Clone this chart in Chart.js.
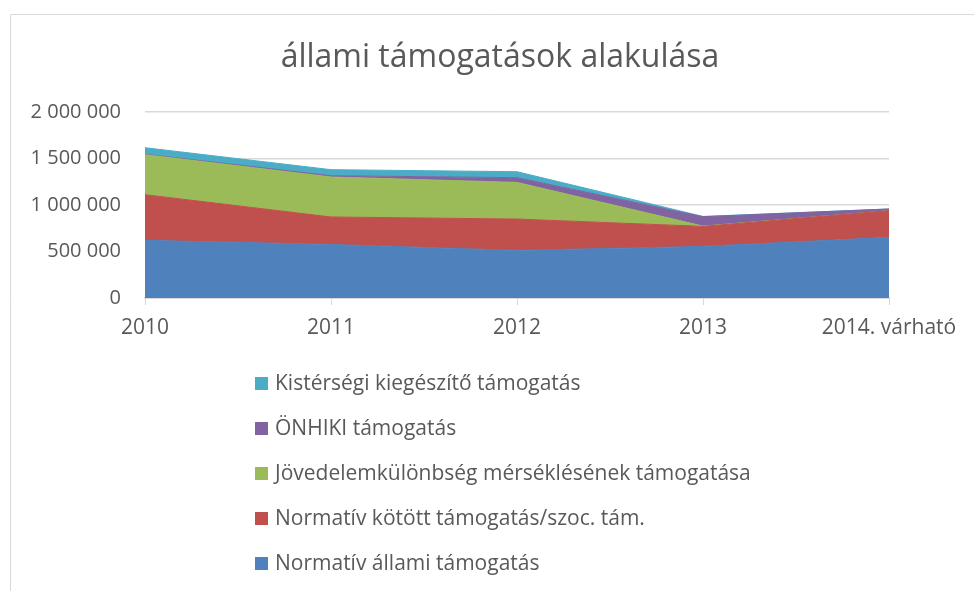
<!DOCTYPE html>
<html>
<head>
<meta charset="utf-8">
<script src="https://cdn.jsdelivr.net/npm/chart.js@4/dist/chart.umd.min.js"></script>
<style>
  html, body { margin: 0; padding: 0; background: #fff; }
  #wrap { width: 974px; height: 591px; position: relative; }
</style>
</head>
<body>
<div id="wrap"><canvas id="myChart" width="974" height="591"></canvas></div>
<script>
const years = ["2010", "2011", "2012", "2013", "2014. várható"];
const normativAllami = [620000, 576000, 512000, 555000, 652000];
const normativKotott = [491000, 295000, 337000, 215000, 287000];
const jovedelem = [430000, 430000, 394000, 3000, 0];
const onhiki = [5000, 14000, 51000, 101000, 18000];
const kistersegi = [70000, 65000, 64000, 3000, 0];
const yTicks = [0, 500000, 1000000, 1500000, 2000000];

const grayText = "#595959";
const font = "'Open Sans', sans-serif";

function area(label, data, color, fill) {
  return {
    label: label,
    data: data,
    backgroundColor: color,
    borderColor: color,
    borderWidth: 1,
    pointRadius: 0,
    fill: fill,
    tension: 0,
  };
}

const datasets = [
  area("Normatív állami támogatás", normativAllami, "#4f81bd", "origin"),
  area("Normatív kötött támogatás/szoc. tám.", normativKotott, "#c0504d", "-1"),
  area("Jövedelemkülönbség mérséklésének támogatása", jovedelem, "#9bbb59", "-1"),
  area("ÖNHIKI támogatás", onhiki, "#8064a2", "-1"),
  area("Kistérségi kiegészítő támogatás", kistersegi, "#4bacc6", "-1"),
];

// title, frame and vertical legend drawn by hand
const decorations = {
  id: "decorations",
  afterDraw(chart) {
    const c = chart.ctx;
    c.save();
    c.strokeStyle = "#d9d9d9";
    c.lineWidth = 1;
    c.beginPath();
    c.moveTo(10.5, 600);
    c.lineTo(10.5, 14.5);
    c.lineTo(980, 14.5);
    c.stroke();

    c.fillStyle = grayText;
    c.font = "32px " + font;
    c.textAlign = "center";
    c.textBaseline = "middle";
    c.fillText("állami támogatások alakulása", 500, 58);

    c.font = "21px " + font;
    c.textAlign = "left";
    const items = chart.data.datasets.slice().reverse();
    items.forEach(function (ds, i) {
      const y = 383 + i * 45;
      c.fillStyle = ds.backgroundColor;
      c.fillRect(255, y - 6, 13, 13);
      c.fillStyle = grayText;
      c.fillText(ds.label, 275, y + 1);
    });
    c.restore();
  },
};

const ctx = document.getElementById("myChart").getContext("2d");
new Chart(ctx, {
  type: "line",
  data: { labels: years, datasets: datasets },
  options: {
    responsive: false,
    animation: false,
    layout: { padding: { left: 0, right: 85, top: 112, bottom: 253 } },
    plugins: {
      legend: { display: false },
      title: { display: false },
      tooltip: { enabled: false },
    },
    scales: {
      x: {
        offset: false,
        grid: {
          drawOnChartArea: false,
          drawTicks: true,
          tickLength: 7,
          color: "#d9d9d9",
        },
        border: { color: "#d9d9d9", width: 2 },
        ticks: { color: grayText, font: { family: font, size: 21 }, padding: 10, maxRotation: 0 },
        afterFit(scale) { scale.height = 40; },
      },
      y: {
        stacked: true,
        min: 0,
        max: 2000000,
        afterBuildTicks(scale) {
          scale.ticks = yTicks.map(function (v) { return { value: v }; });
        },
        grid: { color: "#d9d9d9", drawTicks: false, lineWidth: 1.5 },
        border: { display: false },
        ticks: {
          color: grayText,
          font: { family: font, size: 20 },
          padding: 24,
          callback: function (v) {
            return v.toString().replace(/\B(?=(\d{3})+(?!\d))/g, " ");
          },
        },
        afterFit(scale) { scale.width = 145; },
      },
    },
  },
  plugins: [decorations],
});
</script>
</body>
</html>
